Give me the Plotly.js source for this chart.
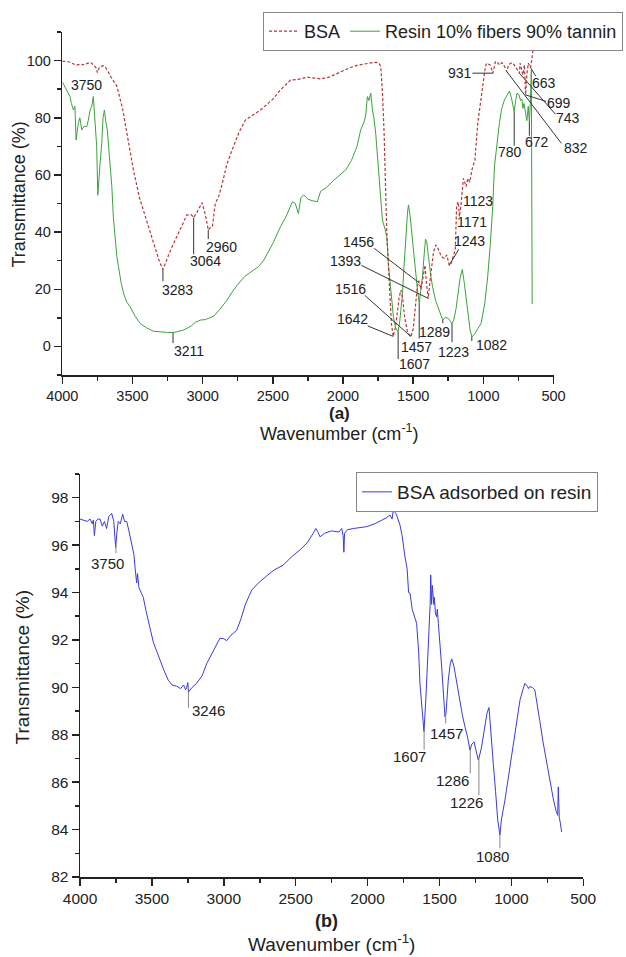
<!DOCTYPE html>
<html>
<head>
<meta charset="utf-8">
<script src="https://cdn.plot.ly/plotly-3.0.1.min.js"></script>
<style>html,body{margin:0;padding:0;background:#fff}#chart{width:626px;height:957px}</style>
</head>
<body>
<div id="chart"></div>
<script>
// ---------- DATA (wavenumber cm-1, transmittance %) ----------
const bsaSpectrum = [
[4000,99.8],[3950,99.5],[3900,98.4],[3870,98.8],[3850,98.5],[3800,99.4],[3780,98.6],[3760,97.5],[3750,95.8],[3735,97.8],
[3710,98.2],[3690,97.5],[3650,94],[3610,90.9],[3570,83],[3540,74.6],[3493,61.7],[3450,52],[3400,44.2],[3350,37],
[3310,30],[3283,26.9],[3260,30],[3230,33.5],[3207,36],[3160,41],[3112,46],[3080,46],[3064,45.1],[3040,47],
[3004,50.3],[2980,46],[2960,40.7],[2945,41.5],[2930,42],[2910,50],[2886,52.4],[2860,57],[2826,64],[2780,70],
[2740,75],[2695,79.2],[2640,81],[2588,82.7],[2500,86.5],[2450,89.5],[2374,93.2],[2320,93.4],[2254,94.2],[2200,94],
[2159,93.6],[2100,94.2],[2064,95],[2000,96.5],[1950,97.5],[1900,98.3],[1826,99.1],[1780,99.4],[1754,99.3],[1740,98.8],
[1731,97.9],[1720,90],[1707,74.6],[1695,55],[1688,40],[1670,22],[1655,8],[1642,3.5],[1625,7],[1600,17],
[1588,19.7],[1575,17],[1560,10],[1540,5],[1517,3.3],[1500,6],[1485,14],[1470,21],[1460,23],[1445,20],
[1430,24],[1416,28.4],[1405,22],[1393,16.8],[1375,25],[1355,33],[1338,35.5],[1320,34],[1300,31.5],[1279,30.8],
[1260,32],[1243,28.4],[1230,29],[1215,31],[1200,33.7],[1190,49.5],[1178,50.6],[1171,45.4],[1160,49],[1142,58.8],
[1123,55.9],[1110,58.8],[1097,57.5],[1080,62],[1060,65.2],[1040,78],[1016,87.4],[999,94.4],[985,98],[975,99.1],
[952,98.5],[931,95.6],[915,99.5],[904,99.7],[885,98.5],[868,99.3],[850,98],[832,96.1],[821,98.5],[797,99.3],
[780,98.5],[760,97],[743,95.6],[738,99.1],[718,95],[707,98.5],[699,88],[690,95],[679,99.1],[663,97.5],
[655,101],[645,104]
];
const resinSpectrum = [
[4000,92.6],[3975,90],[3945,87.4],[3935,85],[3921,82.7],[3910,84],[3902,72.2],[3886,78],[3875,80],[3861,75.7],
[3845,77],[3826,76.9],[3815,79],[3802,82.7],[3790,84],[3779,87.4],[3770,82],[3766,76.9],[3755,70],[3747,52.9],
[3738,62],[3731,64],[3719,71],[3710,80],[3700,82.7],[3695,80],[3688,78],[3680,76],[3671,71],[3660,65],
[3647,55.9],[3636,45],[3624,38],[3611,31.4],[3600,28],[3580,22],[3560,18],[3540,15.5],[3516,13.8],[3480,10.5],
[3445,8],[3400,6.5],[3350,5.3],[3300,5],[3250,4.9],[3207,4.9],[3170,5.3],[3136,5.7],[3080,7.2],[3050,8.5],
[3016,9.2],[2980,9.4],[2950,10],[2921,10.6],[2880,12.8],[2850,14.5],[2826,16.2],[2790,19],[2754,21.4],[2700,24.5],
[2636,26.7],[2600,28],[2564,30.2],[2500,36],[2445,41.9],[2400,46],[2361,50.6],[2340,50],[2318,46.5],[2300,52],
[2279,53],[2250,51.5],[2220,51],[2195,50.6],[2183,50.6],[2159,54.3],[2120,55.5],[2064,58.2],[2020,60],[1981,61.7],
[1940,65],[1900,70],[1874,75.7],[1850,78.5],[1838,81],[1826,87.4],[1815,86],[1802,88.6],[1790,82.7],[1780,80],
[1767,74.6],[1750,64],[1731,51.2],[1719,44.2],[1700,41],[1688,38.4],[1675,28],[1659,18.5],[1640,10],[1625,6.5],
[1607,5.1],[1595,9],[1576,18.6],[1565,28],[1552,39.5],[1540,47],[1533,49.5],[1520,45],[1505,37.2],[1490,29],
[1469,19.7],[1457,15],[1445,19],[1434,24.3],[1420,33],[1412,37.5],[1403,36.6],[1398,35],[1391,31.4],[1375,25],
[1362,20.9],[1340,16],[1315,12.7],[1300,10.5],[1289,9.2],[1270,10.2],[1250,9.8],[1235,8.8],[1223,7.8],[1210,9.5],
[1195,13],[1183,17.4],[1165,24],[1150,26.9],[1135,22],[1112,12.7],[1095,6],[1082,3.3],[1060,4.5],[1040,6.2],
[1016,8],[990,15],[969,24.3],[950,36],[933,48.9],[921,62.8],[900,73],[886,78],[870,83],[850,86.2],
[830,88],[814,89.3],[800,87],[790,84],[780,82.1],[770,86],[760,88.6],[745,88],[735,86],[725,86.5],
[718,83.3],[710,85],[700,82],[690,79],[680,84],[672,78.6],[665,85],[658,96.7],[652,14.8]
];
const adsorbedSpectrum = [
[4000,97.1],[3970,97.05],[3950,97.0],[3930,97.1],[3915,96.9],[3907,97.06],[3900,96.4],[3890,97.0],[3875,97.1],[3861,97.1],
[3845,96.8],[3830,97.0],[3815,96.7],[3800,97.2],[3780,97.34],[3765,97.0],[3752,95.9],[3742,96.6],[3734,97.0],[3720,96.9],
[3703,97.3],[3690,97.0],[3675,97.0],[3660,96.6],[3641,96.1],[3625,95.6],[3618,95.1],[3606,94.4],[3600,94.8],[3590,94.2],
[3575,94.0],[3560,93.8],[3540,93.2],[3525,92.8],[3490,91.9],[3465,91.5],[3444,91.15],[3415,90.7],[3386,90.3],[3360,90.1],
[3328,90.05],[3300,89.95],[3280,90.1],[3265,89.9],[3258,90.0],[3250,90.2],[3246,89.8],[3235,89.9],[3220,90.0],[3189,90.17],
[3150,90.5],[3119,91.0],[3070,91.6],[3027,92.07],[3000,92.05],[2980,91.97],[2950,92.2],[2911,92.4],[2880,92.9],[2850,93.5],
[2806,94.1],[2760,94.4],[2702,94.7],[2650,94.95],[2586,95.16],[2530,95.5],[2470,95.8],[2420,96.1],[2378,96.5],[2360,96.7],
[2345,96.55],[2331,96.35],[2300,96.5],[2250,96.6],[2200,96.55],[2180,96.7],[2170,96.4],[2165,95.7],[2160,96.5],[2140,96.65],
[2100,96.7],[2050,96.75],[2006,96.78],[1950,96.9],[1900,97.05],[1870,97.15],[1844,97.27],[1830,97.1],[1821,97.48],[1800,97.3],
[1775,96.85],[1760,96.4],[1740,95.5],[1725,95.0],[1715,94.0],[1705,93.97],[1690,93.3],[1675,93.0],[1659,92.7],[1645,91.5],
[1636,90.17],[1620,89.0],[1608,88.13],[1595,89.5],[1578,91.57],[1565,93.5],[1561,94.74],[1555,93.5],[1550,94.3],[1547,94.1],
[1540,93.5],[1536,93.8],[1528,93.1],[1520,92.98],[1515,93.3],[1508,92.7],[1495,91.8],[1485,90.87],[1470,89.5],[1462,88.76],
[1455,88.9],[1448,89.6],[1439,90.3],[1425,91.0],[1415,91.2],[1400,90.9],[1380,90.17],[1357,89.3],[1340,88.8],[1323,88.34],
[1305,87.9],[1288,87.35],[1275,87.6],[1260,87.7],[1245,87.3],[1230,86.93],[1210,87.4],[1195,87.9],[1184,88.34],[1170,88.9],
[1156,89.15],[1145,88.4],[1126,86.79],[1110,85.6],[1095,84.4],[1080,83.77],[1070,84.4],[1045,85.24],[1015,86.4],[987,87.49],
[960,88.6],[940,89.47],[920,89.9],[906,90.17],[890,90.05],[880,89.95],[872,90.03],[855,90.0],[837,89.89],[820,89.3],
[803,88.6],[780,87.7],[755,86.79],[730,86.0],[709,85.3],[690,84.8],[685,84.67],[678,84.6],[674,85.8],[667,84.5],
[660,84.3],[651,83.9]
];

// Peak labels (wavenumber values, as printed)
const bsaPeaks = [3750, 3283, 3064, 2960, 1642, 1516, 1456, 1393, 1243, 1171, 1123, 931, 832, 743, 699, 663];
const resinPeaks = [3211, 1607, 1457, 1289, 1223, 1082, 780, 672];
const adsorbedPeaks = [3750, 3246, 1607, 1457, 1286, 1226, 1080];

const seriesNames = ['BSA', 'Resin 10% fibers 90% tannin', 'BSA adsorbed on resin'];
const xTickVals = [4000, 3500, 3000, 2500, 2000, 1500, 1000, 500];

// ---------- LAYOUT / STYLE ----------
const W = 626, H = 957;
const FONT = 'Liberation Sans, Arial, Helvetica, sans-serif';
const INK = '#222';

// leader line end [dx,dy] and label centre [tx,ty], screen px relative to the peak point
const labelOffsets = {
  bsa: {
    3750: {line: null, text: [-10.8, 12.3]},
    3283: {line: [0, 12.7], text: [14.4, 20]},
    3064: {line: [0, 37.7], text: [11.5, 43.4]},
    2960: {line: [0, 10], text: [13.4, 17.3]},
    1642: {line: [-26, -10.7], text: [-40.7, -17.7]},
    1516: {line: [-46.7, -41.7], text: [-60.3, -47.4]},
    1456: {line: [-45.6, -35], text: [-61.1, -41]},
    1393: {line: [-67.3, -33.3], text: [-82.8, -37.6]},
    1243: {line: [10, -16.7], text: [20.5, -24.3]},
    1171: {line: null, text: [12.5, 5]},
    1123: {line: null, text: [11.5, 14]},
    931:  {line: [-21, 0], text: [-33.5, 0]},
    832:  {line: [55, 72.3], text: [68.8, 76.6]},
    743:  {line: [36.6, 41.7], text: [48.6, 45]},
    699:  {line: [21, 6.7], text: [33, 8.4]},
    663:  {line: [5.7, 9.3], text: [13.8, 15.3]}
  },
  resin: {
    3211: {line: [0, 11.7], text: [16, 18.4]},
    1607: {line: [0, 28.3], text: [16.5, 32.3]},
    1457: {line: [0, 36], text: [-2.9, 43.4]},
    1289: {line: [0, 4], text: [-8, 12]},
    1223: {line: [0, 19], text: [1, 27.7]},
    1082: {line: [0, 5], text: [20, 8.3]},
    780:  {line: [0, 35], text: [-3.7, 40]},
    672:  {line: [0, 15], text: [7.8, 20]}
  },
  ads: {
    3750: {line: [0, 10], text: [-8.7, 19.3]},
    3246: {line: [0, 17], text: [20, 18]},
    1607: {line: [0, 21.6], text: [-14.8, 27.6]},
    1457: {line: [0, 10], text: [0.8, 19.3]},
    1286: {line: [0, 25], text: [-17.4, 31.7]},
    1226: {line: [0, 38.3], text: [-12, 45]},
    1080: {line: [0, 14.3], text: [-7.6, 21]}
  }
};

function xs(s) { return s.map(p => p[0]); }
function ys(s) { return s.map(p => p[1]); }
function valueAt(s, x) {
  for (let i = 0; i < s.length - 1; i++) {
    const a = s[i], b = s[i + 1];
    if ((x <= a[0] && x >= b[0]) || (x >= a[0] && x <= b[0])) {
      const t = (x - a[0]) / (b[0] - a[0]);
      return a[1] + t * (b[1] - a[1]);
    }
  }
  return s[s.length - 1][1];
}

const traces = [
  {x: xs(resinSpectrum), y: ys(resinSpectrum), name: seriesNames[1], type: 'scatter', mode: 'lines',
   line: {color: '#3ca23c', width: 1}, xaxis: 'x', yaxis: 'y', legend: 'legend', legendrank: 2},
  {x: xs(bsaSpectrum), y: ys(bsaSpectrum), name: seriesNames[0], type: 'scatter', mode: 'lines',
   line: {color: '#b5373a', width: 1.2, dash: '3px,2px'}, xaxis: 'x', yaxis: 'y', legend: 'legend', legendrank: 1},
  {x: xs(adsorbedSpectrum), y: ys(adsorbedSpectrum), name: seriesNames[2], type: 'scatter', mode: 'lines',
   line: {color: '#3b3bdc', width: 1}, xaxis: 'x2', yaxis: 'y2', legend: 'legend2'}
];

const annotations = [];
function addLabels(peaks, series, offs, xref, yref, fsize, lineColor) {
  peaks.forEach(p => {
    const o = offs[p];
    const y = valueAt(series, p);
    if (o.line) {
      annotations.push({x: p, y: y, xref: xref, yref: yref, text: ' ', showarrow: true,
        arrowhead: 0, arrowwidth: 1, arrowcolor: lineColor, ax: o.line[0], ay: o.line[1],
        standoff: 0, startstandoff: 0, borderpad: 0, font: {size: 1}});
    }
    annotations.push({x: p, y: y, xref: xref, yref: yref, text: String(p), showarrow: false,
      xshift: o.text[0], yshift: -o.text[1], xanchor: 'center', yanchor: 'middle',
      font: {family: FONT, size: fsize, color: INK}});
  });
}
addLabels(bsaPeaks, bsaSpectrum, labelOffsets.bsa, 'x', 'y', 14, '#333');
addLabels(resinPeaks, resinSpectrum, labelOffsets.resin, 'x', 'y', 14, '#333');
addLabels(adsorbedPeaks, adsorbedSpectrum, labelOffsets.ads, 'x2', 'y2', 15, '#888');

function paperAnn(text, px, py, size, opts) {
  return Object.assign({text: text, xref: 'paper', yref: 'paper', x: px / W, y: 1 - py / H,
    xanchor: 'center', yanchor: 'middle', showarrow: false,
    font: {family: FONT, size: size, color: INK}}, opts || {});
}
annotations.push(paperAnn('(a)', 339.5, 413.3, 17, {font: {family: FONT, size: 17, color: INK, weight: 'bold'}}));
annotations.push(paperAnn('Wavenumber (cm<sup>-1</sup>)', 340, 432.7, 18));
annotations.push(paperAnn('Transmittance (%)', 18.5, 195, 18, {textangle: -90}));
annotations.push(paperAnn('(b)', 326, 920.5, 18, {font: {family: FONT, size: 18, color: INK, weight: 'bold'}}));
annotations.push(paperAnn('Wavenumber (cm<sup>-1</sup>)', 331, 942.5, 19));
annotations.push(paperAnn('Transmittance (%)', 22, 667.5, 19, {textangle: -90}));

function xAxis(domPx, fsize, anchor) {
  return {domain: [domPx[0] / W, domPx[1] / W], range: [4000, 500], anchor: anchor,
    tickmode: 'array', tickvals: xTickVals, ticks: 'outside', ticklen: 7, tickwidth: 1.5, tickcolor: INK,
    minor: {dtick: 250, tick0: 0, ticks: 'outside', ticklen: 4, tickwidth: 1.5, tickcolor: INK},
    showline: true, linecolor: INK, linewidth: 1.5, showgrid: false, zeroline: false,
    tickfont: {family: FONT, size: fsize, color: INK}};
}
function yAxis(domPx, range, dtick, mdtick, fsize, anchor) {
  return {domain: [1 - domPx[1] / H, 1 - domPx[0] / H], range: range, anchor: anchor,
    tick0: 0, dtick: dtick, ticks: 'outside', ticklen: 7, tickwidth: 1.5, tickcolor: INK,
    minor: {dtick: mdtick, tick0: 0, ticks: 'outside', ticklen: 4, tickwidth: 1.5, tickcolor: INK},
    showline: true, linecolor: INK, linewidth: 1.5, showgrid: false, zeroline: false,
    tickfont: {family: FONT, size: fsize, color: INK}};
}

const layout = {
  width: W, height: H, margin: {l: 0, r: 0, t: 0, b: 0},
  paper_bgcolor: '#fff', plot_bgcolor: '#fff',
  font: {family: FONT, color: INK},
  xaxis: xAxis([62.3, 553.5], 14.5, 'y'),
  yaxis: yAxis([32, 375], [-10, 110], 20, 10, 14.5, 'x'),
  xaxis2: xAxis([80, 583.3], 15.5, 'y2'),
  yaxis2: yAxis([474, 877], [82, 99], 2, 1, 15.5, 'x2'),
  showlegend: true,
  legend: {orientation: 'h', x: 623 / W, xanchor: 'right', y: 1 - 12 / H, yanchor: 'top',
    bgcolor: '#fff', bordercolor: '#888', borderwidth: 1, font: {family: FONT, size: 18, color: INK},
    traceorder: 'normal', itemwidth: 30, tracegroupgap: 0},
  legend2: {orientation: 'h', x: 598 / W, xanchor: 'right', y: 1 - 472 / H, yanchor: 'top',
    bgcolor: '#fff', bordercolor: '#888', borderwidth: 1, font: {family: FONT, size: 19, color: INK}},
  annotations: annotations
};

Plotly.newPlot('chart', traces, layout, {staticPlot: true, displayModeBar: false});
</script>
</body>
</html>
